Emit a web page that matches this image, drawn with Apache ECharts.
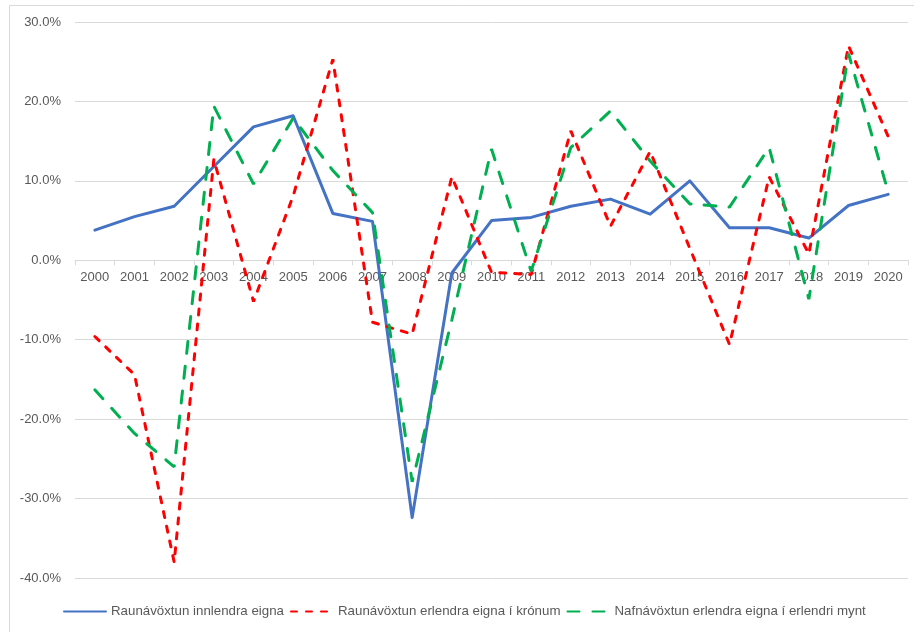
<!DOCTYPE html>
<html>
<head>
<meta charset="utf-8">
<script src="https://cdn.jsdelivr.net/npm/echarts@6/dist/echarts.min.js"></script>
<style>
    html, body { margin: 0; padding: 0; background: #fff; overflow: hidden; }
    #chart { width: 914px; height: 632px; }
</style>
</head>
<body>
<div id="chart"></div>
<script>
// ár
var years = ['2000', '2001', '2002', '2003', '2004', '2005', '2006', '2007', '2008', '2009', '2010',
    '2011', '2012', '2013', '2014', '2015', '2016', '2017', '2018', '2019', '2020'];

// Raunávöxtun innlendra eigna (%)
var innlendra = [3.8, 5.5, 6.8, 11.8, 16.8, 18.2, 5.9, 4.9, -32.4, -1.6, 5.0,
    5.4, 6.8, 7.7, 5.8, 10.0, 4.1, 4.1, 2.8, 6.9, 8.3];

// Raunávöxtun erlendra eigna í krónum (%)
var erlendraKr = [-9.6, -14.4, -38.0, 12.7, -5.2, 8.1, 25.3, -7.8, -9.3, 10.5, -1.5,
    -1.8, 16.3, 4.3, 13.7, 1.5, -10.6, 10.5, 0.8, 27.0, 15.6];

// Nafnávöxtun erlendra eigna í erlendri mynt (%)
var erlendraMynt = [-16.3, -21.8, -26.0, 19.4, 9.6, 17.9, 11.3, 6.0, -27.9, -7.5, 14.0,
    -1.4, 14.2, 18.8, 12.5, 7.1, 6.7, 14.2, -4.9, 26.0, 8.6];

var seriesNames = ['Raunávöxtun innlendra eigna', 'Raunávöxtun erlendra eigna í krónum',
    'Nafnávöxtun erlendra eigna í erlendri mynt'];
var colors = ['#4472C4', '#FF0000', '#00B050'];

var yMin = -40, yMax = 30;
var gridTop = 22, gridBottom = 54;
var chartHeight = 632;
// x-ás liggur á 0-línunni, merkingar undir henni
var gridHeight = chartHeight - gridTop - gridBottom;
var xOffset = -gridHeight * (0 - yMin) / (yMax - yMin);

var myChart = echarts.init(document.getElementById('chart'));
var font = 'Liberation Sans, Arial, sans-serif';

var option = {
    animation: false,
    color: colors,
    textStyle: { fontFamily: font },
    graphic: [{
        // ramminn utan um myndina
        type: 'rect',
        silent: true,
        shape: { x: 9.5, y: 5.5, width: 1000, height: 1000 },
        style: { fill: 'none', stroke: '#d9d9d9', lineWidth: 1 }
    }],
    grid: {
        left: 75,
        right: 6,
        top: gridTop,
        bottom: gridBottom
    },
    legend: {
        bottom: 9,
        left: 58,
        itemWidth: 42,
        itemHeight: 12,
        itemGap: 6,
        itemStyle: { opacity: 0 },
        textStyle: { color: '#595959', fontSize: 13.3, fontFamily: font },
        data: seriesNames
    },
    xAxis: {
        type: 'category',
        data: years,
        offset: xOffset,
        axisLine: { onZero: false, lineStyle: { color: '#d9d9d9', width: 1 } },
        axisTick: { show: true, length: 5, lineStyle: { color: '#d9d9d9' } },
        axisLabel: { color: '#595959', fontSize: 13, interval: 0, margin: 11 }
    },
    yAxis: {
        type: 'value',
        min: yMin,
        max: yMax,
        interval: 10,
        axisLine: { show: false },
        axisTick: { show: false },
        axisLabel: {
            color: '#595959',
            fontSize: 13,
            margin: 14,
            formatter: function (v) { return v.toFixed(1) + '%'; }
        },
        splitLine: { lineStyle: { color: '#d9d9d9', width: 1 } }
    },
    series: [
        {
            name: seriesNames[0],
            type: 'line',
            symbol: 'none',
            data: innlendra,
            lineStyle: { width: 3, color: colors[0], cap: 'round', join: 'round' }
        },
        {
            name: seriesNames[1],
            type: 'line',
            symbol: 'none',
            data: erlendraKr,
            lineStyle: { width: 3, color: colors[1], type: [6, 9], cap: 'round' }
        },
        {
            name: seriesNames[2],
            type: 'line',
            symbol: 'none',
            data: erlendraMynt,
            lineStyle: { width: 3, color: colors[2], type: [12, 13], cap: 'round' }
        }
    ]
};

myChart.setOption(option);
</script>
</body>
</html>
